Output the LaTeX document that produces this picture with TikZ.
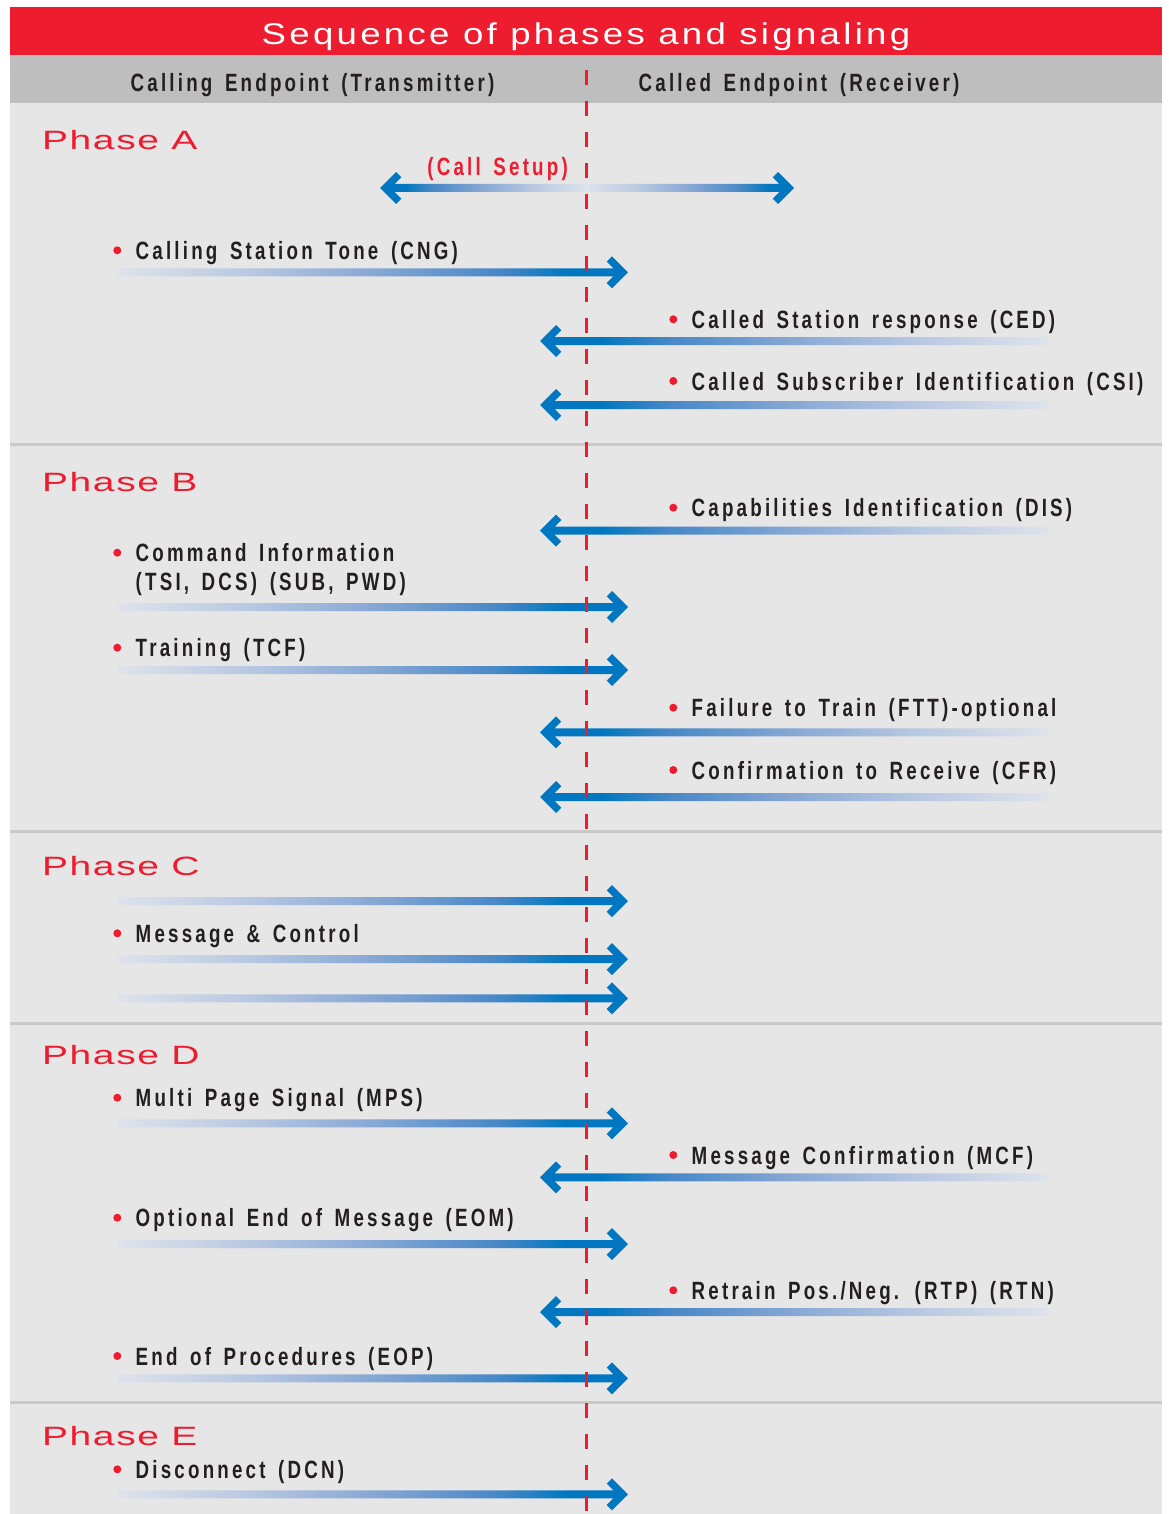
\documentclass[tikz,border=0pt]{standalone}
\usepackage{fontspec}
\setmainfont{Liberation Sans}
\newfontfamily\sigfont{Liberation Sans}[FakeStretch=0.75,LetterSpace=12.8,WordSpace=1.5]
\newfontfamily\phasefont{Liberation Sans}[FakeStretch=1.47,LetterSpace=6]
\newfontfamily\titlefont{Liberation Sans}[FakeStretch=1.22,LetterSpace=11]
\usepackage{tikz}
\definecolor{faxred}{RGB}{237,28,46}
\definecolor{faxblue}{RGB}{0,119,192}
\definecolor{bandgray}{RGB}{190,190,190}
\definecolor{paper}{RGB}{230,230,230}
\definecolor{rulegray}{RGB}{201,201,201}
\definecolor{ink}{RGB}{35,31,32}
\definecolor{fadetail}{RGB}{222,227,235}
\definecolor{fadeone}{RGB}{185,201,226}
\definecolor{fadetwo}{RGB}{135,168,212}
\definecolor{fadethree}{RGB}{70,135,198}
\pgfdeclarehorizontalshading{fadeR}{100bp}{color(0bp)=(fadetail); color(25bp)=(fadetail); color(37.5bp)=(fadeone); color(50bp)=(fadetwo); color(62.5bp)=(fadethree); color(69bp)=(faxblue); color(100bp)=(faxblue)}
\pgfdeclarehorizontalshading{fadeL}{100bp}{color(0bp)=(faxblue); color(31bp)=(faxblue); color(37.5bp)=(fadethree); color(50bp)=(fadetwo); color(62.5bp)=(fadeone); color(75bp)=(fadetail); color(100bp)=(fadetail)}

\begin{document}
\begin{tikzpicture}[x=1pt, y=-1pt,
  every node/.style={inner sep=0pt},
  dot/.style={circle, fill=faxred, minimum size=8pt, inner sep=0pt},
  sigtext/.style={anchor=base west, text height=18pt, text depth=0pt, text=ink, font=\sigfont\bfseries\fontsize{25}{28.3}\selectfont},
  sig/.style={sigtext, label={[dot, label distance=14pt]left:{}}},
  head/.style={anchor=base, text=ink, font=\sigfont\bfseries\fontsize{25}{28}\selectfont},
  phase/.style={anchor=base west, text=faxred, font=\phasefont\fontsize{26.5}{30}\selectfont},
  sigR/.style={shade, shading=fadeR, to path={(\tikztotarget) -- ([xshift=-16,yshift=16]\tikztotarget) -- ([xshift=-21.3,yshift=10.7]\tikztotarget) -- ([xshift=-14.6,yshift=4]\tikztotarget) -- ([yshift=4]\tikztostart) -- ([yshift=-4]\tikztostart) -- ([xshift=-14.6,yshift=-4]\tikztotarget) -- ([xshift=-21.3,yshift=-10.7]\tikztotarget) -- ([xshift=-16,yshift=-16]\tikztotarget) -- cycle}},
  sigL/.style={shade, shading=fadeL, to path={(\tikztotarget) -- ([xshift=16,yshift=16]\tikztotarget) -- ([xshift=21.3,yshift=10.7]\tikztotarget) -- ([xshift=14.6,yshift=4]\tikztotarget) -- ([yshift=4]\tikztostart) -- ([yshift=-4]\tikztostart) -- ([xshift=14.6,yshift=-4]\tikztotarget) -- ([xshift=21.3,yshift=-10.7]\tikztotarget) -- ([xshift=16,yshift=-16]\tikztotarget) -- cycle}}]
\useasboundingbox (0,0) rectangle (1168,1514);
\fill[white] (0,0) rectangle (1168,1514);
% bands and phase rules
\fill[faxred] (10,7) rectangle (1162,55);
\fill[bandgray] (10,55) rectangle (1162,103);
\fill[paper] (10,103) rectangle (1162,1514);
\draw[rulegray, line width=3pt] (10,444) -- (1162,444);
\draw[rulegray, line width=3pt] (10,831) -- (1162,831);
\draw[rulegray, line width=3pt] (10,1023) -- (1162,1023);
\draw[rulegray, line width=3pt] (10,1402) -- (1162,1402);

\node[anchor=base, text=white, font=\titlefont\fontsize{30}{34}\selectfont] (title) at (586,44.5) {Sequence of phases and signaling};
\node[head] (tx) at (312.5,91.7) {Calling Endpoint (Transmitter)};
\node[head] (rx) at (799,91.7) {Called Endpoint (Receiver)};

\node[phase] (pA) at (42,150) {Phase A};
\node[phase] (pB) at (42,491.7) {Phase B};
\node[phase] (pC) at (42,875) {Phase C};
\node[phase] (pD) at (42,1064.3) {Phase D};
\node[phase] (pE) at (42,1445) {Phase E};

% Phase A
\node[anchor=base east, text=faxred, font=\sigfont\bfseries\fontsize{25}{28}\selectfont] (setup) at (568,175.5) {(Call Setup)};
\coordinate (mid) at (586,188); \coordinate (setupL) at (380,188); \coordinate (setupR) at (794,188);
\path[sigL] (mid) to (setupL);
\path[sigR] (mid) to (setupR);
\node[sig] (cng) at (135.5,259.3) {Calling Station Tone (CNG)};
\coordinate (cngS) at (118,272.3); \coordinate (cngE) at (628,272.3);
\path[sigR] (cngS) to (cngE);
\node[sig] (ced) at (691.5,328.3) {Called Station response (CED)};
\coordinate (cedS) at (1048,341); \coordinate (cedE) at (540,341);
\path[sigL] (cedS) to (cedE);
\node[sig] (csi) at (691.5,390) {Called Subscriber Identification (CSI)};
\coordinate (csiS) at (1048,405); \coordinate (csiE) at (540,405);
\path[sigL] (csiS) to (csiE);

% Phase B
\node[sig] (dis) at (691.5,516.7) {Capabilities Identification (DIS)};
\coordinate (disS) at (1048,530.7); \coordinate (disE) at (540,530.7);
\path[sigL] (disS) to (disE);
\node[sigtext, align=left, label={[dot, label distance=14pt, yshift=28.3pt]left:{}}] (cmd) at (135.5,590) {Command Information\\(TSI, DCS) (SUB, PWD)};
\coordinate (cmdS) at (118,607); \coordinate (cmdE) at (628,607);
\path[sigR] (cmdS) to (cmdE);
\node[sig] (tcf) at (135.5,656.7) {Training (TCF)};
\coordinate (tcfS) at (118,670); \coordinate (tcfE) at (628,670);
\path[sigR] (tcfS) to (tcfE);
\node[sig] (ftt) at (691.5,716.7) {Failure to Train (FTT)-optional};
\coordinate (fttS) at (1048,732.3); \coordinate (fttE) at (540,732.3);
\path[sigL] (fttS) to (fttE);
\node[sig] (cfr) at (691.5,779) {Confirmation to Receive (CFR)};
\coordinate (cfrS) at (1048,797); \coordinate (cfrE) at (540,797);
\path[sigL] (cfrS) to (cfrE);

% Phase C
\coordinate (msgAS) at (118,901); \coordinate (msgAE) at (628,901);
\path[sigR] (msgAS) to (msgAE);
\node[sig] (msg) at (135.5,942.3) {Message \& Control};
\coordinate (msgBS) at (118,959); \coordinate (msgBE) at (628,959);
\path[sigR] (msgBS) to (msgBE);
\coordinate (msgCS) at (118,998.3); \coordinate (msgCE) at (628,998.3);
\path[sigR] (msgCS) to (msgCE);

% Phase D
\node[sig] (mps) at (135.5,1106.7) {Multi Page Signal (MPS)};
\coordinate (mpsS) at (118,1123.3); \coordinate (mpsE) at (628,1123.3);
\path[sigR] (mpsS) to (mpsE);
\node[sig] (mcf) at (691.5,1164) {Message Confirmation (MCF)};
\coordinate (mcfS) at (1048,1177.3); \coordinate (mcfE) at (540,1177.3);
\path[sigL] (mcfS) to (mcfE);
\node[sig] (eom) at (135.5,1226.7) {Optional End of Message (EOM)};
\coordinate (eomS) at (118,1244); \coordinate (eomE) at (628,1244);
\path[sigR] (eomS) to (eomE);
\node[sig] (rtp) at (691.5,1299.3) {Retrain Pos./Neg. (RTP) (RTN)};
\coordinate (rtpS) at (1048,1312); \coordinate (rtpE) at (540,1312);
\path[sigL] (rtpS) to (rtpE);
\node[sig] (eop) at (135.5,1365) {End of Procedures (EOP)};
\coordinate (eopS) at (118,1378.3); \coordinate (eopE) at (628,1378.3);
\path[sigR] (eopS) to (eopE);

% Phase E
\node[sig] (dcn) at (135.5,1478.3) {Disconnect (DCN)};
\coordinate (dcnS) at (118,1494.3); \coordinate (dcnE) at (628,1494.3);
\path[sigR] (dcnS) to (dcnE);

% boundary between the endpoints
\draw[faxred, line width=3pt, dash pattern=on 15pt off 16pt] (586,70) -- (586,1514);
\end{tikzpicture}
\end{document}
